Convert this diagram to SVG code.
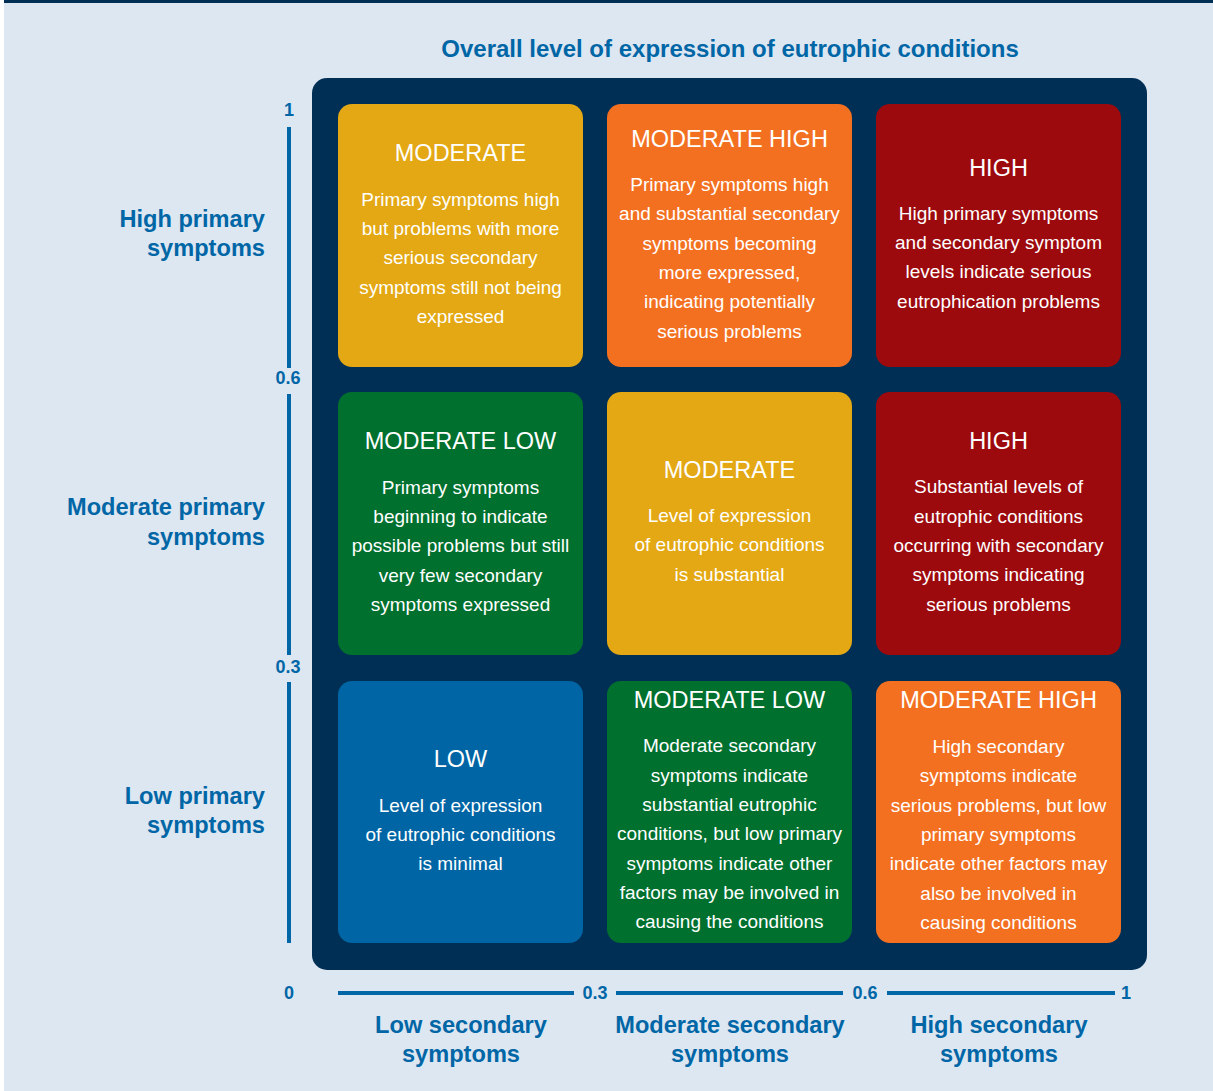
<svg xmlns="http://www.w3.org/2000/svg" width="1213" height="1091" viewBox="0 0 1213 1091">
  <style>
    .title { font-family: "Liberation Sans", Arial, sans-serif; font-weight: bold; font-size: 24px; fill: #0066a6; }
    .axis { font-family: "Liberation Sans", Arial, sans-serif; font-weight: bold; font-size: 23.6px; fill: #0066a6; }
    .tick { font-family: "Liberation Sans", Arial, sans-serif; font-weight: bold; font-size: 18px; fill: #0066a6; text-anchor: middle; }
    .head { font-family: "Liberation Sans", Arial, sans-serif; font-size: 23.5px; fill: #ffffff; text-anchor: middle; }
    .body { font-family: "Liberation Sans", Arial, sans-serif; font-size: 19px; fill: #ffffff; text-anchor: middle; }
    .axisline { stroke: #0066a6; stroke-width: 4; fill: none; }
    .yellow { fill: #e3a813; }
    .orange { fill: #f37021; }
    .red { fill: #9d0a0e; }
    .green { fill: #00702f; }
    .blue { fill: #0065a4; }
  </style>

  <!-- page background -->
  <rect x="4" y="0" width="1209" height="1091" fill="#dde7f2"/>
  <rect x="4" y="0" width="1209" height="3" fill="#002f56"/>

  <text class="title" x="730" y="57" text-anchor="middle">Overall level of expression of eutrophic conditions</text>

  <!-- matrix panel -->
  <rect x="312" y="78" width="835" height="892" rx="15" fill="#002f56"/>

  <!-- axes -->
  <g id="axes">
    <line class="axisline" x1="289" y1="127" x2="289" y2="368"/>
    <line class="axisline" x1="289" y1="394" x2="289" y2="655"/>
    <line class="axisline" x1="289" y1="682" x2="289" y2="943"/>
    <line class="axisline" x1="338" y1="993" x2="574" y2="993"/>
    <line class="axisline" x1="616" y1="993" x2="843" y2="993"/>
    <line class="axisline" x1="887" y1="993" x2="1115" y2="993"/>
    <text class="tick" x="289" y="116">1</text>
    <text class="tick" x="288" y="384">0.6</text>
    <text class="tick" x="288" y="673">0.3</text>
    <text class="tick" x="289" y="999">0</text>
    <text class="tick" x="595" y="999">0.3</text>
    <text class="tick" x="865" y="999">0.6</text>
    <text class="tick" x="1126" y="999">1</text>

    <text class="axis" text-anchor="end"><tspan x="265" y="227">High primary</tspan><tspan x="265" y="256">symptoms</tspan></text>
    <text class="axis" text-anchor="end"><tspan x="265" y="515">Moderate primary</tspan><tspan x="265" y="545">symptoms</tspan></text>
    <text class="axis" text-anchor="end"><tspan x="265" y="804">Low primary</tspan><tspan x="265" y="833">symptoms</tspan></text>

    <text class="axis" text-anchor="middle"><tspan x="461" y="1033">Low secondary</tspan><tspan x="461" y="1062">symptoms</tspan></text>
    <text class="axis" text-anchor="middle"><tspan x="730" y="1033">Moderate secondary</tspan><tspan x="730" y="1062">symptoms</tspan></text>
    <text class="axis" text-anchor="middle"><tspan x="999" y="1033">High secondary</tspan><tspan x="999" y="1062">symptoms</tspan></text>
  </g>

  <!-- row 1 -->
  <g id="cell-high-low">
    <rect class="yellow" x="338" y="104" width="245" height="263" rx="14"/>
    <text class="head" x="460.5" y="161">MODERATE</text>
    <text class="body"><tspan x="460.5" y="206">Primary symptoms high</tspan><tspan x="460.5" y="235">but problems with more</tspan><tspan x="460.5" y="264">serious secondary</tspan><tspan x="460.5" y="294">symptoms still not being</tspan><tspan x="460.5" y="323">expressed</tspan></text>
  </g>
  <g id="cell-high-moderate">
    <rect class="orange" x="607" y="104" width="245" height="263" rx="14"/>
    <text class="head" x="729.5" y="147">MODERATE HIGH</text>
    <text class="body"><tspan x="729.5" y="191">Primary symptoms high</tspan><tspan x="729.5" y="220">and substantial secondary</tspan><tspan x="729.5" y="250">symptoms becoming</tspan><tspan x="729.5" y="279">more expressed,</tspan><tspan x="729.5" y="308">indicating potentially</tspan><tspan x="729.5" y="338">serious problems</tspan></text>
  </g>
  <g id="cell-high-high">
    <rect class="red" x="876" y="104" width="245" height="263" rx="14"/>
    <text class="head" x="998.5" y="176">HIGH</text>
    <text class="body"><tspan x="998.5" y="220">High primary symptoms</tspan><tspan x="998.5" y="249">and secondary symptom</tspan><tspan x="998.5" y="278">levels indicate serious</tspan><tspan x="998.5" y="308">eutrophication problems</tspan></text>
  </g>

  <!-- row 2 -->
  <g id="cell-moderate-low">
    <rect class="green" x="338" y="392" width="245" height="263" rx="14"/>
    <text class="head" x="460.5" y="449">MODERATE LOW</text>
    <text class="body"><tspan x="460.5" y="494">Primary symptoms</tspan><tspan x="460.5" y="523">beginning to indicate</tspan><tspan x="460.5" y="552">possible problems but still</tspan><tspan x="460.5" y="582">very few secondary</tspan><tspan x="460.5" y="611">symptoms expressed</tspan></text>
  </g>
  <g id="cell-moderate-moderate">
    <rect class="yellow" x="607" y="392" width="245" height="263" rx="14"/>
    <text class="head" x="729.5" y="478">MODERATE</text>
    <text class="body"><tspan x="729.5" y="522">Level of expression</tspan><tspan x="729.5" y="551">of eutrophic conditions</tspan><tspan x="729.5" y="581">is substantial</tspan></text>
  </g>
  <g id="cell-moderate-high">
    <rect class="red" x="876" y="392" width="245" height="263" rx="14"/>
    <text class="head" x="998.5" y="449">HIGH</text>
    <text class="body"><tspan x="998.5" y="493">Substantial levels of</tspan><tspan x="998.5" y="523">eutrophic conditions</tspan><tspan x="998.5" y="552">occurring with secondary</tspan><tspan x="998.5" y="581">symptoms indicating</tspan><tspan x="998.5" y="611">serious problems</tspan></text>
  </g>

  <!-- row 3 -->
  <g id="cell-low-low">
    <rect class="blue" x="338" y="681" width="245" height="262" rx="14"/>
    <text class="head" x="460.5" y="767">LOW</text>
    <text class="body"><tspan x="460.5" y="812">Level of expression</tspan><tspan x="460.5" y="841">of eutrophic conditions</tspan><tspan x="460.5" y="870">is minimal</tspan></text>
  </g>
  <g id="cell-low-moderate">
    <rect class="green" x="607" y="681" width="245" height="262" rx="14"/>
    <text class="head" x="729.5" y="708">MODERATE LOW</text>
    <text class="body"><tspan x="729.5" y="752">Moderate secondary</tspan><tspan x="729.5" y="782">symptoms indicate</tspan><tspan x="729.5" y="811">substantial eutrophic</tspan><tspan x="729.5" y="840">conditions, but low primary</tspan><tspan x="729.5" y="870">symptoms indicate other</tspan><tspan x="729.5" y="899">factors may be involved in</tspan><tspan x="729.5" y="928">causing the conditions</tspan></text>
  </g>
  <g id="cell-low-high">
    <rect class="orange" x="876" y="681" width="245" height="262" rx="14"/>
    <text class="head" x="998.5" y="708">MODERATE HIGH</text>
    <text class="body"><tspan x="998.5" y="753">High secondary</tspan><tspan x="998.5" y="782">symptoms indicate</tspan><tspan x="998.5" y="812">serious problems, but low</tspan><tspan x="998.5" y="841">primary symptoms</tspan><tspan x="998.5" y="870">indicate other factors may</tspan><tspan x="998.5" y="900">also be involved in</tspan><tspan x="998.5" y="929">causing conditions</tspan></text>
  </g>

  <!-- no connectors in this chart -->
  <g id="connectors"/>
</svg>
